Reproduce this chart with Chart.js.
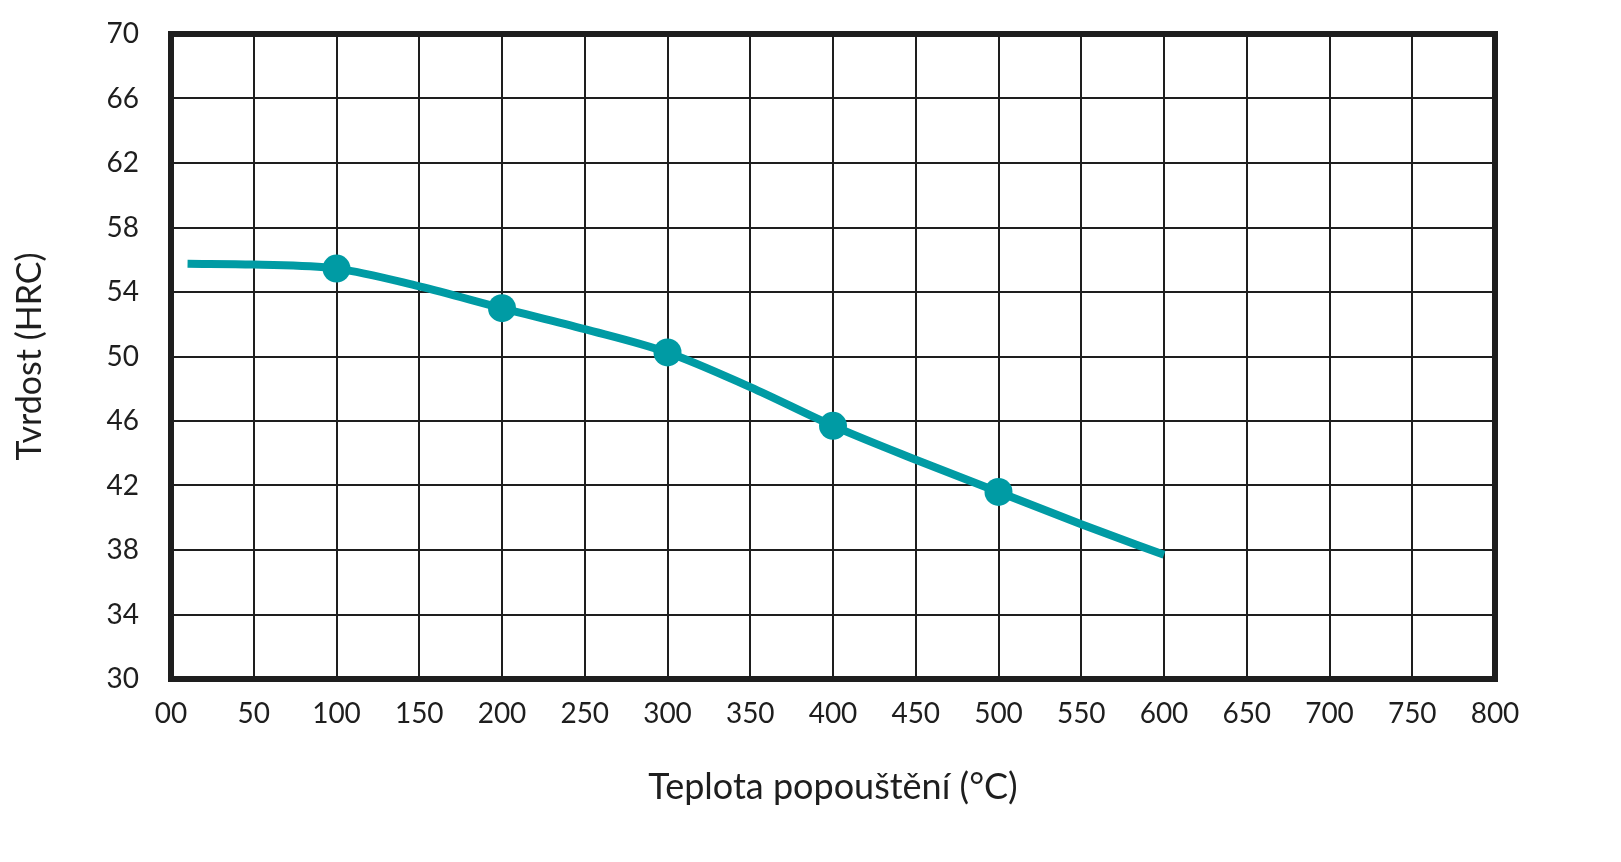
<!DOCTYPE html>
<html>
<head>
<meta charset="utf-8">
<script src="https://cdn.jsdelivr.net/npm/chart.js@4.4.1/dist/chart.umd.min.js"></script>
<style>
  html, body { margin: 0; padding: 0; background: #fff; }
  #wrap { width: 1621px; height: 862px; }
</style>
</head>
<body>
<div id="wrap"><canvas id="hardnessChart" width="1621" height="862"></canvas></div>
<script>
// values
const temps = [10, 50, 100, 150, 200, 250, 300, 350, 400, 450, 500, 550, 600];
const hardness = [55.75, 55.7, 55.45, 54.35, 53.0, 51.7, 50.25, 48.1, 45.7, 43.6, 41.6, 39.6, 37.7];
const markedTemps = [100, 200, 300, 400, 500];
const xTickLabels = ["00", "50", "100", "150", "200", "250", "300", "350", "400",
  "450", "500", "550", "600", "650", "700", "750", "800"];
const yTickLabels = ["30", "34", "38", "42", "46", "50", "54", "58", "62", "66", "70"];

const teal = "#009ba4";
const ink = "#1e1e1e";
const fontFamily = "Lato, 'Noto Sans', sans-serif";

const points = temps.map((t, i) => ({ x: t, y: hardness[i] }));
const radii = temps.map((t) => (markedTemps.includes(t) ? 14 : 0));

// thick frame round the plot area
const framePlugin = {
  id: "frame",
  afterDatasetsDraw(chart) {
    const { ctx, chartArea: a } = chart;
    ctx.save();
    ctx.strokeStyle = ink;
    ctx.lineWidth = 6;
    ctx.strokeRect(a.left, a.top, a.right - a.left, a.bottom - a.top);
    ctx.restore();
  },
};

const ctx = document.getElementById("hardnessChart").getContext("2d");

const config = {
  type: "line",
  data: {
    datasets: [
      {
        data: points,
        borderColor: teal,
        backgroundColor: teal,
        borderWidth: 8,
        pointRadius: radii,
        pointHoverRadius: radii,
        pointBorderWidth: 0,
        cubicInterpolationMode: "monotone",
        fill: false,
        clip: false,
      },
    ],
  },
  options: {
    responsive: false,
    animation: false,
    events: [],
    layout: {
      padding: { left: 0, right: 126, top: 34, bottom: 0 },
    },
    plugins: {
      legend: { display: false },
      tooltip: { enabled: false },
    },
    scales: {
      x: {
        type: "linear",
        min: 0,
        max: 800,
        afterBuildTicks(scale) {
          scale.ticks = xTickLabels.map((l, i) => ({ value: i * 50 }));
        },
        afterFit(scale) {
          scale.height = 183;
        },
        ticks: {
          callback: (v, i) => xTickLabels[i],
          color: ink,
          padding: 18,
          maxRotation: 0,
          autoSkip: false,
          font: { family: fontFamily, size: 28 },
        },
        grid: { color: ink, lineWidth: 2, drawTicks: false },
        border: { display: false },
        title: {
          display: true,
          text: "Teplota popouštění (°C)",
          color: ink,
          font: { family: fontFamily, size: 36 },
          padding: { top: 0, bottom: 53 },
        },
      },
      y: {
        min: 30,
        max: 70,
        afterBuildTicks(scale) {
          scale.ticks = yTickLabels.map((l, i) => ({ value: 30 + i * 4 }));
        },
        afterFit(scale) {
          scale.width = 171;
          scale.paddingTop = 0;
          scale.paddingBottom = 0;
        },
        ticks: {
          callback: (v, i) => yTickLabels[i],
          color: ink,
          padding: 32,
          autoSkip: false,
          font: { family: fontFamily, size: 28 },
        },
        grid: { color: ink, lineWidth: 2, drawTicks: false },
        border: { display: false },
        title: {
          display: true,
          text: "Tvrdost (HRC)",
          color: ink,
          font: { family: fontFamily, size: 34 },
          padding: { top: 10, bottom: 0 },
        },
      },
    },
  },
  plugins: [framePlugin],
};

const hardnessChart = new Chart(ctx, config);
</script>
</body>
</html>
